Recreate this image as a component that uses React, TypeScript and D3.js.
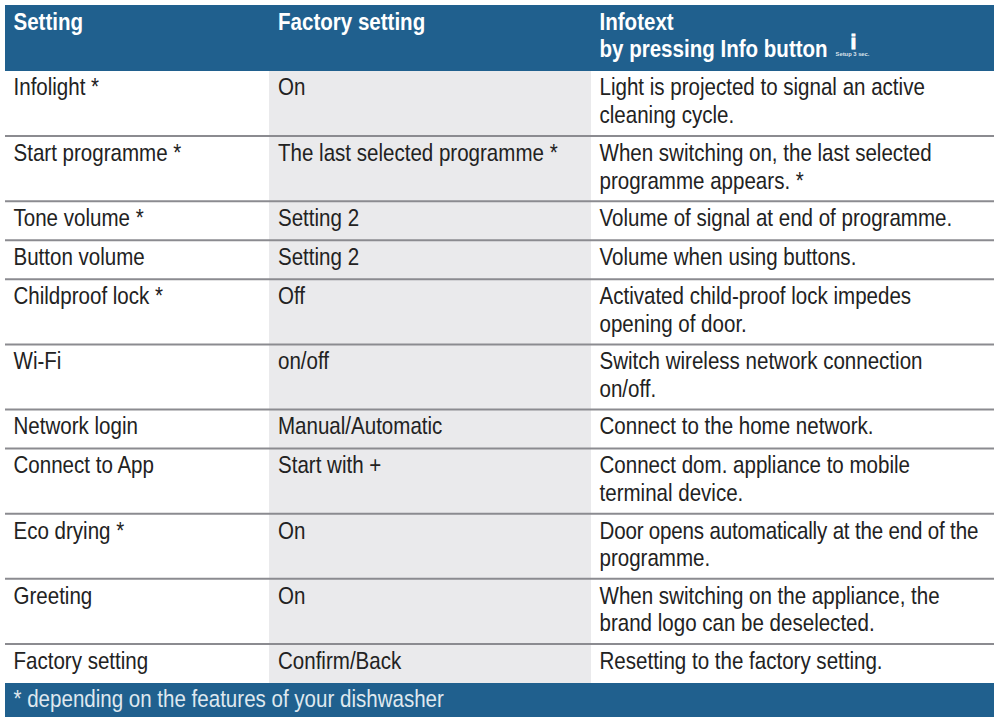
import * as d3 from 'd3';

const columns = ['Setting', 'Factory setting', 'Infotext'];
const infoHeaderSecondLine = 'by pressing Info button';
const footnote = '* depending on the features of your dishwasher';

const settings = [
  'Infolight *',
  'Start programme *',
  'Tone volume *',
  'Button volume',
  'Childproof lock *',
  'Wi-Fi',
  'Network login',
  'Connect to App',
  'Eco drying *',
  'Greeting',
  'Factory setting',
];

const factoryValues = [
  'On',
  'The last selected programme *',
  'Setting 2',
  'Setting 2',
  'Off',
  'on/off',
  'Manual/Automatic',
  'Start with +',
  'On',
  'On',
  'Confirm/Back',
];

const infoTexts = [
  ['Light is projected to signal an active', 'cleaning cycle.'],
  ['When switching on, the last selected', 'programme appears. *'],
  ['Volume of signal at end of programme.'],
  ['Volume when using buttons.'],
  ['Activated child-proof lock impedes', 'opening of door.'],
  ['Switch wireless network connection', 'on/off.'],
  ['Connect to the home network.'],
  ['Connect dom. appliance to mobile', 'terminal device.'],
  ['Door opens automatically at the end of the', 'programme.'],
  ['When switching on the appliance, the', 'brand logo can be deselected.'],
  ['Resetting to the factory setting.'],
];

const width = 994;
const height = 717;
const BLUE = '#20608e';
const SHADE = '#eaeaec';
const RULE = '#8b8b90';
const INK = '#222';
const FONT = '"Liberation Sans", sans-serif';
const FONT_SIZE = 24;
const LINE_HEIGHT = 27.6;
// the original face is condensed, no narrow font here so squeeze Liberation
const SQUEEZE = 0.856;

// two-line rows are 5 parts tall, one-line rows 3
const rowParts = infoTexts.map((lines) => (lines.length > 1 ? 5 : 3));
const rowEdges = d3.cumsum(rowParts);
const y = d3.scaleLinear().domain([0, d3.sum(rowParts)]).range([71, 683]);
const rowTop = (i: number) => y(i === 0 ? 0 : rowEdges[i - 1]);

const textX = d3.scaleOrdinal<string, number>().domain(columns).range([13.5, 278, 599.5]);

function Label({ x, y, spacing, children }: { x: number; y: number; spacing?: number; children: string }) {
  return (
    <text transform={`translate(${x},${y}) scale(${SQUEEZE},1)`} letterSpacing={spacing}>
      {children}
    </text>
  );
}

export default function App() {
  const [settingCol, factoryCol, infoCol] = columns;
  return (
    <svg
      width={width}
      height={height}
      viewBox={`0 0 ${width} ${height}`}
      style={{ position: 'absolute', left: 0, top: 0, display: 'block', background: '#fff' }}
      fontFamily={FONT}
      fontSize={FONT_SIZE}
    >
      {/* Header band */}
      <rect x={5} y={5} width={width - 5} height={66} fill={BLUE} />
      <g fill="#fff" fontWeight="bold">
        {columns.map((c) => (
          <Label key={c} x={textX(c)} y={30}>{c}</Label>
        ))}
        <Label x={textX(infoCol)} y={57}>{infoHeaderSecondLine}</Label>
      </g>
      {/* Info button icon */}
      <g fill="#fff" fontWeight="bold" textAnchor="middle">
        <text x={853.5} y={49} fontSize={21} stroke="#fff" strokeWidth={1}>i</text>
        <text x={852.5} y={56} fontSize={5.8} fillOpacity={0.85}>Setup 3 sec.</text>
      </g>

      {/* Shaded middle column */}
      <rect x={269} y={71} width={322} height={612} fill={SHADE} />

      {/* Row rules */}
      {settings.slice(1).map((s, i) => (
        <line key={s} x1={5} x2={width} y1={rowTop(i + 1)} y2={rowTop(i + 1)} stroke={RULE} strokeWidth={2} />
      ))}

      {/* Cells */}
      <g fill={INK}>
        {settings.map((s, i) => {
          const base = rowTop(i) + (i === 0 ? 24 : 24.8);
          return (
            <g key={s}>
              <Label x={textX(settingCol)} y={base}>{s}</Label>
              <Label x={textX(factoryCol)} y={base}>{factoryValues[i]}</Label>
              {infoTexts[i].map((line, j) => (
                // the long door line is set tighter in the original
                <Label key={line} x={textX(infoCol)} y={base + j * LINE_HEIGHT} spacing={line.length > 40 ? -0.2 : undefined}>
                  {line}
                </Label>
              ))}
            </g>
          );
        })}
      </g>

      {/* Footnote band */}
      <rect x={5} y={683} width={width - 5} height={34} fill={BLUE} />
      <g fill="#dfe8ef">
        <Label x={13.5} y={707}>{footnote}</Label>
      </g>
    </svg>
  );
}
